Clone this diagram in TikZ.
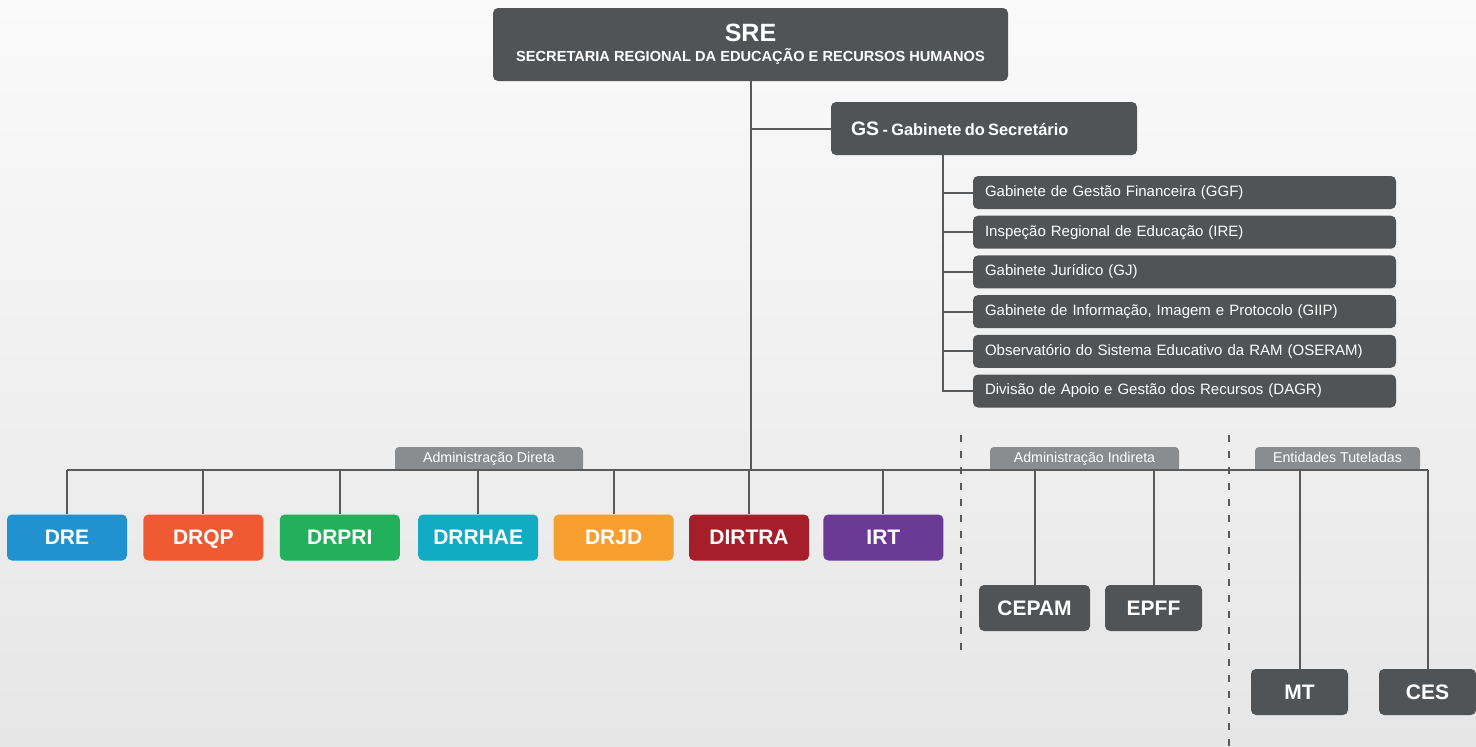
\documentclass[tikz,border=0pt]{standalone}
\usepackage{fontspec}
\setmainfont{Liberation Sans}
\usetikzlibrary{calc,positioning}
\definecolor{boxgray}{HTML}{515457}
\definecolor{tabgray}{HTML}{8A8D90}
\definecolor{linegray}{HTML}{58595B}
\definecolor{bgtop}{HTML}{FAFAFA}
\definecolor{bgbottom}{HTML}{E6E6E6}
\definecolor{dreblue}{HTML}{2291D0}
\definecolor{drqporange}{HTML}{F05A32}
\definecolor{drprigreen}{HTML}{22B05C}
\definecolor{drrhaeteal}{HTML}{12ABC4}
\definecolor{drjdorange}{HTML}{F7A030}
\definecolor{dirtrared}{HTML}{A61E2A}
\definecolor{irtpurple}{HTML}{6A3A96}
\tikzstyle{element}=[
  fill=boxgray,
  text=white,
  font=\bfseries,
  inner sep=0pt,
  minimum height=46pt,
  minimum width=120pt,
  rounded corners=5pt,
  text centered,
]
\tikzstyle{unit}=[
  element,
  font={\fontsize{21}{24}\selectfont\bfseries},
  text height=15pt,
  text depth=1pt,
]
\tikzstyle{office}=[
  fill=boxgray,
  text=white,
  font={\fontsize{15}{18}\selectfont},
  inner xsep=12pt,
  inner ysep=0pt,
  minimum height=33pt,
  text width=399pt,
  align=left,
  rounded corners=5pt,
]
\tikzstyle{tab}=[
  fill=tabgray,
  text=white,
  font={\fontsize{14.2}{16}\selectfont},
  inner sep=0pt,
  minimum height=23pt,
  text height=10pt,
  text depth=3pt,
  rounded corners=4pt,
]
\tikzstyle{link}=[
  draw=linegray,
  line width=2pt,
]
\tikzstyle{divider}=[
  draw=linegray,
  line width=1.8pt,
  dash pattern=on 7pt off 9pt,
]
\tikzset{
  x=1pt,
  y=-1pt,
}

\begin{document}
\begin{tikzpicture}
      \useasboundingbox (0,0) rectangle (1476,747);
      \shade [top color=bgtop, bottom color=bgbottom] (0,0) rectangle (1476,747);
      %%
      \node (sre) [element, minimum width=515pt, minimum height=73pt, align=center] at (750.5,44.5)
        {{\fontsize{25}{28}\selectfont SRE}\\[6pt]{\fontsize{14.6}{16}\selectfont SECRETARIA REGIONAL DA EDUCAÇÃO E RECURSOS HUMANOS}};
      \node (gs) [element, minimum width=306pt, minimum height=53pt, text width=266pt, align=left] at (984,128.5)
        {{\fontsize{19.5}{20}\selectfont GS} {\fontsize{16.4}{16}\selectfont - Gabinete do Secretário}};
      \coordinate (gsstem) at ($(gs.south west)+(112,0)$);
      %%
      \node (ggf) [office] at (1184.5,192.5) {Gabinete de Gestão Financeira (GGF)};
      \node (ire) [office, below=6.3pt of ggf] {Inspeção Regional de Educação (IRE)};
      \node (gj) [office, below=6.3pt of ire] {Gabinete Jurídico (GJ)};
      \node (giip) [office, below=6.3pt of gj] {Gabinete de Informação, Imagem e Protocolo (GIIP)};
      \node (oseram) [office, below=6.3pt of giip] {Observatório do Sistema Educativo da RAM (OSERAM)};
      \node (dagr) [office, below=6.3pt of oseram] {Divisão de Apoio e Gestão dos Recursos (DAGR)};
      %%
      \node (dre) [unit, fill=dreblue] at (67,537.5) {DRE};
      \node (drqp) [unit, fill=drqporange, right=16pt of dre] {DRQP};
      \node (drpri) [unit, fill=drprigreen, right=16pt of drqp] {DRPRI};
      \node (drrhae) [unit, fill=drrhaeteal, right=18pt of drpri] {DRRHAE};
      \node (drjd) [unit, fill=drjdorange, right=15pt of drrhae] {DRJD};
      \node (dirtra) [unit, fill=dirtrared, right=15pt of drjd] {DIRTRA};
      \node (irt) [unit, fill=irtpurple, right=14pt of dirtra] {IRT};
      %%
      \node (cepam) [unit, minimum width=111pt] at (1034.5,608) {CEPAM};
      \node (epff) [unit, minimum width=97pt] at (1153.5,608) {EPFF};
      \node (mt) [unit, minimum width=97pt] at (1299.5,692) {MT};
      \node (ces) [unit, minimum width=97pt] at (1427.5,692) {CES};
      %%
      \node (direta) [tab, minimum width=188pt] at (489,458.5) {Administração Direta};
      \node (indireta) [tab, minimum width=189pt] at (1084.5,458.5) {Administração Indireta};
      \node (tuteladas) [tab, minimum width=165pt] at (1337.5,458.5) {Entidades Tuteladas};
      \foreach \t in {direta,indireta,tuteladas}
        \fill [tabgray] (\t.south west) rectangle ($(\t.south east)+(0,-5)$);
      %%
      \coordinate (bus) at (751,470);
      \draw [link] (sre.south) -- (sre.south |- bus);
      \draw [link] (gs.west -| sre.south) -- (gs.west);
      \foreach \n in {ggf,ire,gj,giip,oseram,dagr}
        \draw [link] (gsstem) |- (\n.west);
      \draw [link] (dre.north |- bus) -- (ces.north |- bus);
      \foreach \n in {dre,drqp,drpri,drrhae,drjd,dirtra,irt,cepam,epff,mt,ces}
        \draw [link] (\n.north) -- (\n.north |- bus);
      %%
      \coordinate (cutA) at (961,435);
      \coordinate (cutAend) at (961,658);
      \coordinate (cutB) at (1229,435);
      \coordinate (cutBend) at (1229,747);
      \draw [divider] (cutA) -- (cutAend);
      \draw [divider] (cutB) -- (cutBend);
    \end{tikzpicture}
\end{document}
